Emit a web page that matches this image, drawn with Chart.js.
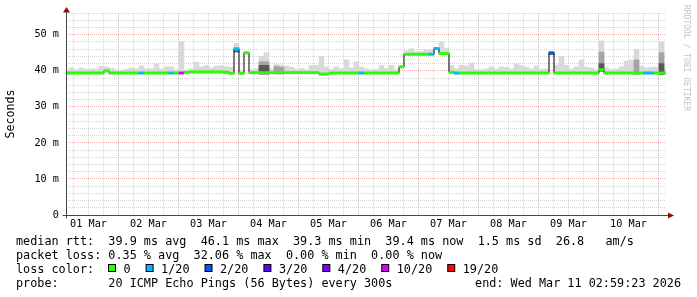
<!DOCTYPE html>
<html>
<head>
<meta charset="utf-8">
<script src="https://cdn.jsdelivr.net/npm/chart.js@4.4.1/dist/chart.umd.min.js"></script>
<style>
  html, body { margin: 0; padding: 0; background: #fff; }
</style>
</head>
<body>
<canvas id="smokeChart" width="697" height="297"></canvas>
<script>
// SmokePing style graph, 10 days, 2 hour consolidation

// time axis is in hours since 01 Mar 00:00
const X_START = 3.0;
const X_END = 243.0;
const FIRST_BIN = 3.2;
const BIN_HOURS = 2;
const DAY_LABELS = ['01 Mar', '02 Mar', '03 Mar', '04 Mar', '05 Mar', '06 Mar', '07 Mar', '08 Mar', '09 Mar', '10 Mar'];

// median rtt per bin (ms)
const median = [
    39.4, 39.4, 39.4, 39.4, 39.4, 39.4, 39.4, 39.4, 40.0, 39.4,
    39.4, 39.4, 39.4, 39.4, 39.4, 39.4, 39.4, 39.4, 39.4, 39.4,
    39.4, 39.4, 39.4, 39.4, 39.6, 39.7, 39.7, 39.7, 39.7, 39.7,
    39.7, 39.7, 39.6, 39.3, 46.0, 39.3, 45.0, 39.5, 39.5, 39.5,
    39.5, 39.5, 39.5, 39.5, 39.5, 39.5, 39.5, 39.5, 39.5, 39.5,
    39.5, 39.1, 39.1, 39.4, 39.4, 39.4, 39.4, 39.4, 39.4, 39.4,
    39.4, 39.4, 39.4, 39.4, 39.4, 39.4, 39.4, 41.1, 44.6, 44.6,
    44.6, 44.6, 44.6, 44.6, 46.2, 44.8, 44.8, 39.6, 39.4, 39.4,
    39.4, 39.4, 39.4, 39.4, 39.4, 39.4, 39.4, 39.4, 39.4, 39.4,
    39.4, 39.4, 39.4, 39.4, 39.4, 39.4, 39.4, 45.0, 39.4, 39.4,
    39.4, 39.4, 39.4, 39.4, 39.4, 39.4, 39.4, 40.3, 39.4, 39.4,
    39.4, 39.4, 39.4, 39.4, 39.4, 39.4, 39.4, 39.4, 39.4, 39.4,
    39.4
];

// loss level per bin, index into LOSS_LABELS / LOSS_COLORS
const loss = [
    0, 0, 0, 0, 0, 0, 0, 0, 0, 0,
    0, 0, 0, 0, 0, 1, 0, 0, 0, 0,
    0, 1, 0, 5, 0, 0, 0, 0, 0, 0,
    0, 0, 0, 0, 1, 0, 0, 0, 0, 0,
    0, 0, 0, 0, 0, 0, 0, 0, 0, 0,
    0, 0, 0, 0, 0, 0, 0, 0, 0, 1,
    0, 0, 0, 0, 0, 0, 0, 0, 0, 0,
    0, 0, 0, 1, 1, 0, 0, 0, 1, 0,
    0, 0, 0, 0, 0, 0, 0, 0, 0, 0,
    0, 0, 0, 0, 0, 0, 0, 2, 0, 0,
    0, 0, 0, 0, 0, 0, 0, 0, 0, 0,
    0, 0, 0, 0, 0, 0, 1, 1, 0, 0,
    0
];

// top of the smoke (slowest pings) per bin (ms)
const smokeHi = [
    40.2, 40.8, 40.3, 40.8, 40.4, 40.5, 40.5, 41.2, 41.1, 40.7,
    40.3, 40.0, 40.4, 40.8, 40.6, 41.4, 40.5, 40.6, 42.0, 40.5,
    41.1, 41.1, 40.3, 48.2, 40.2, 40.6, 42.4, 41.1, 41.5, 40.8,
    41.3, 41.4, 41.1, 41.0, 47.6, 40.0, 45.3, 40.3, 40.6, 44.0,
    45.0, 40.6, 41.7, 41.6, 41.3, 41.0, 40.4, 40.6, 40.3, 41.5,
    41.5, 43.9, 41.1, 40.4, 41.1, 40.6, 43.0, 40.8, 42.5, 41.0,
    40.5, 40.3, 40.4, 41.5, 40.6, 41.5, 40.3, 41.5, 45.5, 46.1,
    45.3, 45.3, 45.9, 45.9, 46.5, 48.0, 46.3, 41.5, 40.6, 41.6,
    41.4, 42.2, 40.4, 40.3, 40.5, 41.1, 40.5, 41.1, 41.0, 40.5,
    42.0, 41.4, 41.0, 40.5, 41.3, 40.4, 40.5, 45.2, 41.6, 44.0,
    41.5, 40.5, 41.1, 43.0, 41.0, 40.8, 40.3, 48.3, 40.8, 40.4,
    40.5, 41.1, 42.7, 43.0, 46.0, 41.3, 40.8, 41.0, 41.0, 48.0,
    40.5
];

// denser parts of the smoke (null where there is none)
const smokeMid = [];
const smokeDark = [];
smokeMid[34] = 46.5; smokeDark[34] = 45.2;
smokeMid[39] = 42.5; smokeDark[39] = 41.5;
smokeMid[40] = 42.5; smokeDark[40] = 41.5;
smokeMid[42] = 41.2;
smokeMid[43] = 41.0;
smokeMid[97] = 45.2; smokeDark[97] = 44.5;
smokeMid[107] = 45.2; smokeDark[107] = 42.0;
smokeMid[114] = 43.0;
smokeMid[119] = 45.0; smokeDark[119] = 42.0;

const LOSS_LABELS = ['0', '1/20', '2/20', '3/20', '4/20', '10/20', '19/20'];
const LOSS_COLORS = ['#26ff00', '#00b8ff', '#0059ff', '#5e00ff', '#7e00ff', '#dd00ff', '#ff0000'];

const LEGEND_LINES = [
    'median rtt:  39.9 ms avg  46.1 ms max  39.3 ms min  39.4 ms now  1.5 ms sd  26.8   am/s',
    'packet loss: 0.35 % avg  32.06 % max  0.00 % min  0.00 % now',
    'loss color:',
    'probe:       20 ICMP Echo Pings (56 Bytes) every 300s'
];
const END_TEXT = 'end: Wed Mar 11 02:59:23 2026';
const WATERMARK = 'RRDTOOL / TOBI OETIKER';

const MONO = '"DejaVu Sans Mono", "Liberation Mono", monospace';
const GRID_MINOR = 'rgba(140,140,140,0.36)';
const GRID_MAJOR = 'rgba(200,40,40,0.36)';
const AXIS_COLOR = '#404a47';
const ARROW_COLOR = '#8a1010';

const binX = median.map((m, i) => FIRST_BIN + i * BIN_HOURS);

function band(tops) {
    return binX.map((x, i) => {
        if (tops[i] == null) return { x: x, y: null };
        return { x: x, y: [median[i] - 0.4, tops[i]] };
    });
}

// axes, arrows, legend and watermark, drawn the rrdtool way
const rrdFrame = {
    id: 'rrdFrame',
    afterDraw(chart) {
        const ctx = chart.ctx;
        const a = chart.chartArea;
        const x0 = Math.round(a.left) + 0.5;
        const y0 = Math.round(a.bottom) + 0.5;
        ctx.save();

        ctx.strokeStyle = AXIS_COLOR;
        ctx.lineWidth = 1;
        ctx.beginPath();
        ctx.moveTo(x0 - 4, y0);
        ctx.lineTo(a.right + 3, y0);
        ctx.moveTo(x0, y0 + 3);
        ctx.lineTo(x0, a.top - 2);
        ctx.stroke();

        ctx.fillStyle = ARROW_COLOR;
        ctx.beginPath();
        ctx.moveTo(a.right + 2, y0 - 3);
        ctx.lineTo(a.right + 8, y0);
        ctx.lineTo(a.right + 2, y0 + 3);
        ctx.closePath();
        ctx.fill();
        ctx.beginPath();
        ctx.moveTo(x0 - 3.5, a.top - 0.5);
        ctx.lineTo(x0, a.top - 6);
        ctx.lineTo(x0 + 3.5, a.top - 0.5);
        ctx.closePath();
        ctx.fill();

        // legend
        ctx.font = '11.8px ' + MONO;
        ctx.fillStyle = '#000';
        ctx.textBaseline = 'alphabetic';
        ctx.textAlign = 'left';
        const base = [245, 259, 273, 287];
        LEGEND_LINES.forEach((t, i) => ctx.fillText(t, 16, base[i]));
        ctx.textAlign = 'right';
        ctx.fillText(END_TEXT, 681, base[3]);
        ctx.textAlign = 'left';

        let lx = 108.5;
        LOSS_LABELS.forEach((label, i) => {
            ctx.fillStyle = LOSS_COLORS[i];
            ctx.fillRect(lx, 264.5, 7, 7);
            ctx.strokeStyle = '#000';
            ctx.strokeRect(lx, 264.5, 7, 7);
            ctx.fillStyle = '#000';
            ctx.fillText(label, lx + 15, base[2]);
            lx += 15 + ctx.measureText(label).width + 15.5;
        });

        // watermark
        ctx.translate(686.5, 5);
        ctx.rotate(Math.PI / 2);
        ctx.font = '8px ' + MONO;
        ctx.fillStyle = '#c4c4c4';
        ctx.textBaseline = 'middle';
        ctx.fillText(WATERMARK, 0, 0);
        ctx.restore();
    }
};

const ctx = document.getElementById('smokeChart').getContext('2d');
const smokeChart = new Chart(ctx, {
    type: 'bar',
    data: {
        datasets: [
            {
                type: 'bar',
                data: binX.map((x, i) => ({ x: x, y: [median[i] - 0.3, median[i] + 0.3] })),
                backgroundColor: loss.map(l => LOSS_COLORS[l]),
                grouped: false,
                barPercentage: 1,
                categoryPercentage: 1,
                order: 0
            },
            {
                type: 'line',
                data: binX.map((x, i) => ({ x: x, y: median[i] })),
                borderColor: '#000',
                borderWidth: 1,
                pointRadius: 0,
                stepped: 'middle',
                order: 1
            },
            {
                type: 'bar',
                data: band(smokeDark),
                backgroundColor: '#575757',
                grouped: false,
                barPercentage: 1,
                categoryPercentage: 1,
                order: 2
            },
            {
                type: 'bar',
                data: band(smokeMid),
                backgroundColor: '#a4a4a4',
                grouped: false,
                barPercentage: 1,
                categoryPercentage: 1,
                order: 3
            },
            {
                type: 'bar',
                data: band(smokeHi),
                backgroundColor: '#d9d9d9',
                grouped: false,
                barPercentage: 1,
                categoryPercentage: 1,
                order: 4
            }
        ]
    },
    options: {
        responsive: false,
        animation: false,
        layout: {
            padding: { left: 0, right: 31, top: 13, bottom: 66 }
        },
        plugins: {
            legend: { display: false },
            tooltip: { enabled: false }
        },
        scales: {
            x: {
                type: 'linear',
                min: X_START,
                max: X_END,
                offset: false,
                afterBuildTicks: scale => {
                    const ticks = [];
                    for (let h = 6; h <= 240; h += 6) ticks.push({ value: h });
                    scale.ticks = ticks;
                },
                afterFit: scale => { scale.height = 16; },
                grid: {
                    offset: false,
                    drawTicks: false,
                    lineWidth: 1,
                    color: c => (c.tick && c.tick.value % 24 === 0) ? GRID_MAJOR : GRID_MINOR
                },
                border: { display: false, dash: [1, 1] },
                ticks: {
                    autoSkip: false,
                    maxRotation: 0,
                    padding: 3,
                    color: '#000',
                    font: { family: MONO, size: 10.2 },
                    callback: v => (v % 24 === 12) ? DAY_LABELS[(v - 12) / 24] : ''
                }
            },
            y: {
                min: 0,
                max: 56,
                afterBuildTicks: scale => {
                    const ticks = [];
                    for (let v = 0; v <= 56; v += 2) ticks.push({ value: v });
                    scale.ticks = ticks;
                },
                afterFit: scale => { scale.width = 66; },
                grid: {
                    drawTicks: false,
                    lineWidth: 1,
                    color: c => (c.tick && c.tick.value % 10 === 0) ? GRID_MAJOR : GRID_MINOR
                },
                border: { display: false, dash: [1, 1] },
                title: {
                    display: true,
                    text: 'Seconds',
                    color: '#000',
                    font: { family: MONO, size: 11.6 },
                    padding: { top: 4, bottom: 0 }
                },
                ticks: {
                    autoSkip: false,
                    padding: 7,
                    color: '#000',
                    font: { family: MONO, size: 10.2 },
                    callback: v => (v % 10 === 0) ? (v === 0 ? '0' : v + ' m') : ''
                }
            }
        }
    },
    plugins: [rrdFrame]
});
</script>
</body>
</html>
